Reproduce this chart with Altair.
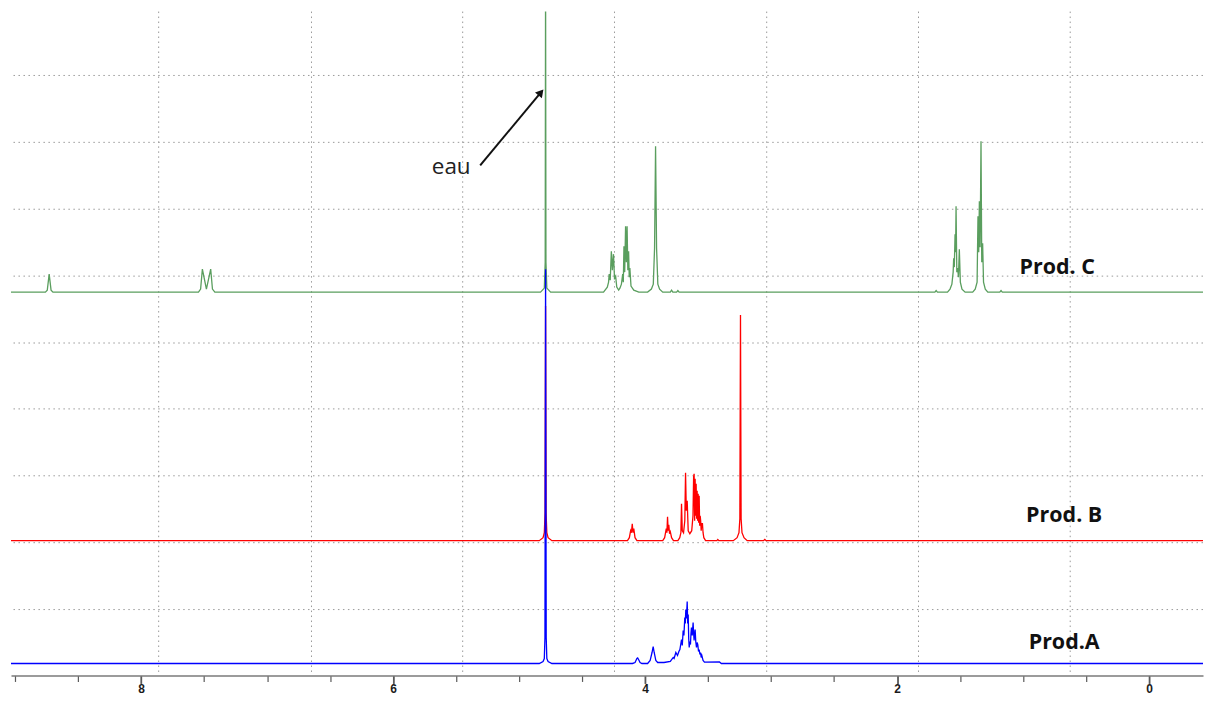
import altair as alt
import pandas as pd

# ---------------- values ----------------
# chemical-shift axis (ppm), drawn reversed (high ppm on the left)
x_domain = [-0.428, 9.033]
y_domain = [0, 665]
tick_values = [9.0, 8.5, 8.0, 7.5, 7.0, 6.5, 6.0, 5.5, 5.0, 4.5, 4.0,
               3.5, 3.0, 2.5, 2.0, 1.5, 1.0, 0.5, 0.0]
vgrid_ppm = [7.861, 6.648, 5.448, 4.243, 3.035, 1.830, 0.626]
hgrid_v = [66, 133, 200, 267, 333, 400, 467, 534, 601]

# baselines (vertical offsets) of the three stacked spectra
base_c = 384
base_b = 135
base_a = 12

# Prod. C trace: (ppm, intensity above its baseline)
prod_c = [
    (9.033, 0),
    (8.76, 0), (8.745, 2), (8.73, 18), (8.715, 2), (8.70, 0),
    (7.545, 0), (7.528, 3), (7.514, 23), (7.482, 3), (7.448, 23), (7.434, 3), (7.415, 0),
    (4.83, 0), (4.80, 4), (4.793, 30), (4.79, 320), (4.787, 30), (4.78, 4), (4.75, 0),
    (4.33, 0), (4.30, 5), (4.29, 10), (4.285, 18), (4.277, 12), (4.268, 41), (4.26, 22),
    (4.251, 38), (4.243, 14), (4.234, 16), (4.225, 5), (4.21, 2),
    (4.20, 4), (4.188, 8), (4.178, 18), (4.173, 10), (4.168, 46), (4.162, 20), (4.155, 66),
    (4.149, 30), (4.143, 66), (4.137, 22), (4.131, 41), (4.126, 15), (4.121, 24), (4.112, 6),
    (4.09, 2), (4.05, 0),
    (3.98, 0), (3.95, 3), (3.935, 8), (3.925, 44), (3.917, 146), (3.909, 44), (3.899, 8),
    (3.885, 3), (3.86, 0),
    (3.80, 0), (3.79, 2), (3.78, 0), (3.75, 0), (3.74, 1.5), (3.73, 0),
    (1.70, 0), (1.69, 1.5), (1.68, 0),
    (1.60, 0), (1.58, 3), (1.565, 8), (1.555, 20), (1.551, 34), (1.546, 25), (1.540, 58),
    (1.536, 40), (1.532, 86), (1.526, 20), (1.519, 24), (1.513, 15), (1.506, 43), (1.498, 10),
    (1.485, 3), (1.46, 0),
    (1.40, 0), (1.38, 3), (1.365, 10), (1.358, 76), (1.352, 40), (1.347, 91), (1.341, 45),
    (1.334, 151), (1.328, 30), (1.321, 49), (1.314, 10), (1.30, 3), (1.28, 0),
    (1.185, 0), (1.175, 1.5), (1.165, 0),
    (-0.428, 0),
]

# Prod. B trace
prod_b = [
    (9.033, 0),
    (4.84, 0), (4.81, 3), (4.80, 8), (4.794, 28), (4.79, 235), (4.786, 28), (4.78, 8),
    (4.77, 3), (4.74, 0),
    (4.14, 0), (4.125, 3), (4.115, 10), (4.109, 8), (4.102, 17), (4.096, 8), (4.09, 12),
    (4.08, 3), (4.065, 0),
    (3.86, 0), (3.845, 3), (3.832, 12), (3.827, 8), (3.822, 24), (3.817, 10), (3.812, 16),
    (3.806, 7), (3.80, 9), (3.79, 3), (3.775, 0),
    (3.74, 0), (3.725, 3), (3.716, 8), (3.711, 37), (3.705, 10), (3.695, 8), (3.685, 20),
    (3.679, 68), (3.673, 30), (3.666, 40), (3.658, 10), (3.645, 7), (3.63, 10), (3.62, 25),
    (3.615, 64), (3.611, 67), (3.607, 20), (3.603, 62), (3.599, 25), (3.595, 57), (3.591, 22),
    (3.587, 50), (3.583, 20), (3.579, 47), (3.575, 18), (3.571, 45), (3.567, 15), (3.563, 25),
    (3.559, 20), (3.555, 10), (3.550, 17), (3.545, 17), (3.54, 8), (3.534, 3), (3.52, 0),
    (3.43, 0), (3.423, 1.2), (3.415, 0),
    (3.30, 0), (3.27, 3), (3.255, 8), (3.248, 22), (3.243, 226), (3.238, 22), (3.231, 8),
    (3.215, 3), (3.19, 0),
    (3.06, 0), (3.05, 1.2), (3.04, 0),
    (-0.428, 0),
]

# Prod.A trace
prod_a = [
    (9.033, 0),
    (4.84, 0), (4.81, 2), (4.80, 5), (4.795, 26), (4.79, 395), (4.785, 26), (4.78, 5),
    (4.77, 2), (4.74, 0),
    (4.10, 0), (4.08, 1), (4.065, 5), (4.059, 5.5), (4.052, 4), (4.04, 1), (4.025, 0),
    (3.98, 0), (3.96, 3), (3.945, 11), (3.936, 17), (3.928, 11), (3.915, 3), (3.90, 1),
    (3.85, 1), (3.80, 2), (3.777, 6), (3.77, 5), (3.756, 11), (3.743, 8), (3.732, 12),
    (3.724, 14), (3.711, 24), (3.705, 18), (3.698, 33), (3.692, 28), (3.685, 46), (3.681, 40),
    (3.677, 54), (3.672, 45), (3.666, 62), (3.662, 40), (3.658, 49), (3.654, 25), (3.650, 16),
    (3.645, 22), (3.640, 19), (3.636, 30), (3.632, 36), (3.626, 28), (3.619, 41), (3.615, 30),
    (3.611, 23), (3.607, 30), (3.603, 34), (3.598, 22), (3.592, 16), (3.587, 21), (3.582, 19),
    (3.576, 12), (3.571, 14), (3.565, 9), (3.560, 11), (3.555, 6), (3.550, 8), (3.540, 3),
    (3.529, 1.3),
    (3.41, 1.5), (3.395, 0),
    (-0.428, 0),
]

# annotations
label_text = ["Prod. C", "Prod. B", "Prod.A"]
label_ppm = [0.729, 0.674, 0.674]
label_v = [408, 160, 33]

note_text = ["eau"]
note_ppm = [5.539]
note_v = [509]

arrow_ppm = [5.309]
arrow_v = [511]
arrow_ppm2 = [4.827]
arrow_v2 = [584]
arrow_angle = [40]

# ---------------- chart ----------------
x_scale = alt.Scale(domain=x_domain, reverse=True, nice=False, zero=False)
y_scale = alt.Scale(domain=y_domain, nice=False, zero=False)

x_axis = alt.Axis(
    values=tick_values,
    labelExpr="datum.value % 2 === 0 ? format(datum.value, 'd') : ''",
    labelFont="'Liberation Sans Narrow', 'Liberation Sans', sans-serif",
    labelFontWeight="bold", labelFontSize=12,
    labelColor="#1a1a1a", labelPadding=0, labelOverlap=False, labelFlush=False,
    domainColor="#7a7a7a", domainWidth=1.5,
    tickColor="#5a5a5a",
    tickSize={"condition": {"test": "datum.value % 2 === 0", "value": 8}, "value": 6},
    tickWidth={"condition": {"test": "datum.value % 2 === 0", "value": 1.8}, "value": 1.2},
    grid=False, title=None,
)


def X(field="ppm"):
    return alt.X(f"{field}:Q", scale=x_scale, axis=x_axis)


def Y(field="v"):
    return alt.Y(f"{field}:Q", scale=y_scale, axis=None)


def trace_frame(trace, base):
    return pd.DataFrame({
        "ppm": [p for p, _ in trace],
        "v": [base + h for _, h in trace],
        "idx": list(range(len(trace))),
    })


grid_dash = [1.5, 3.5]
vgrid = alt.Chart(pd.DataFrame({"ppm": vgrid_ppm})).mark_rule(
    color="#9a9a9a", strokeWidth=1, strokeDash=grid_dash
).encode(x=X())
hgrid = alt.Chart(pd.DataFrame({"v": hgrid_v})).mark_rule(
    color="#9a9a9a", strokeWidth=1, strokeDash=grid_dash
).encode(y=Y())


def line_layer(trace, base, color):
    return alt.Chart(trace_frame(trace, base)).mark_line(
        color=color, strokeWidth=1.3, clip=True, interpolate="linear"
    ).encode(x=X(), y=Y(), order="idx:Q")


line_c = line_layer(prod_c, base_c, "#5a9e5e")
line_b = line_layer(prod_b, base_b, "#ff0000")
line_a = line_layer(prod_a, base_a, "#0000ff")

labels = alt.Chart(pd.DataFrame({"ppm": label_ppm, "v": label_v, "t": label_text})).mark_text(
    font="Open Sans", fontWeight="bold", fontSize=21.5, color="#111111",
    align="center", baseline="middle"
).encode(x=X(), y=Y(), text="t:N")

note = alt.Chart(pd.DataFrame({"ppm": note_ppm, "v": note_v, "t": note_text})).mark_text(
    font="Open Sans", fontSize=22.5, color="#222222", align="center", baseline="middle"
).encode(x=X(), y=Y(), text="t:N")

arrow_df = pd.DataFrame({"ppm": arrow_ppm, "v": arrow_v, "ppm2": arrow_ppm2,
                         "v2": arrow_v2, "ang": arrow_angle})
arrow_line = alt.Chart(arrow_df).mark_rule(color="#111111", strokeWidth=2).encode(
    x=X(), y=Y(), x2="ppm2:Q", y2="v2:Q"
)
arrow_head = alt.Chart(arrow_df).mark_point(
    shape="triangle-up", filled=True, color="#111111", size=80, opacity=1
).encode(x=X("ppm2"), y=Y("v2"), angle=alt.Angle("ang:Q", scale=None))

chart = alt.layer(
    vgrid, hgrid, line_c, line_b, line_a, labels, note, arrow_line, arrow_head
).properties(
    width=1194, height=665,
    padding={"left": 2, "top": 2, "right": 0, "bottom": 0},
    background="white",
).configure_view(strokeWidth=0)

chart.save("out.html", embed_options={"renderer": "svg", "actions": False})
